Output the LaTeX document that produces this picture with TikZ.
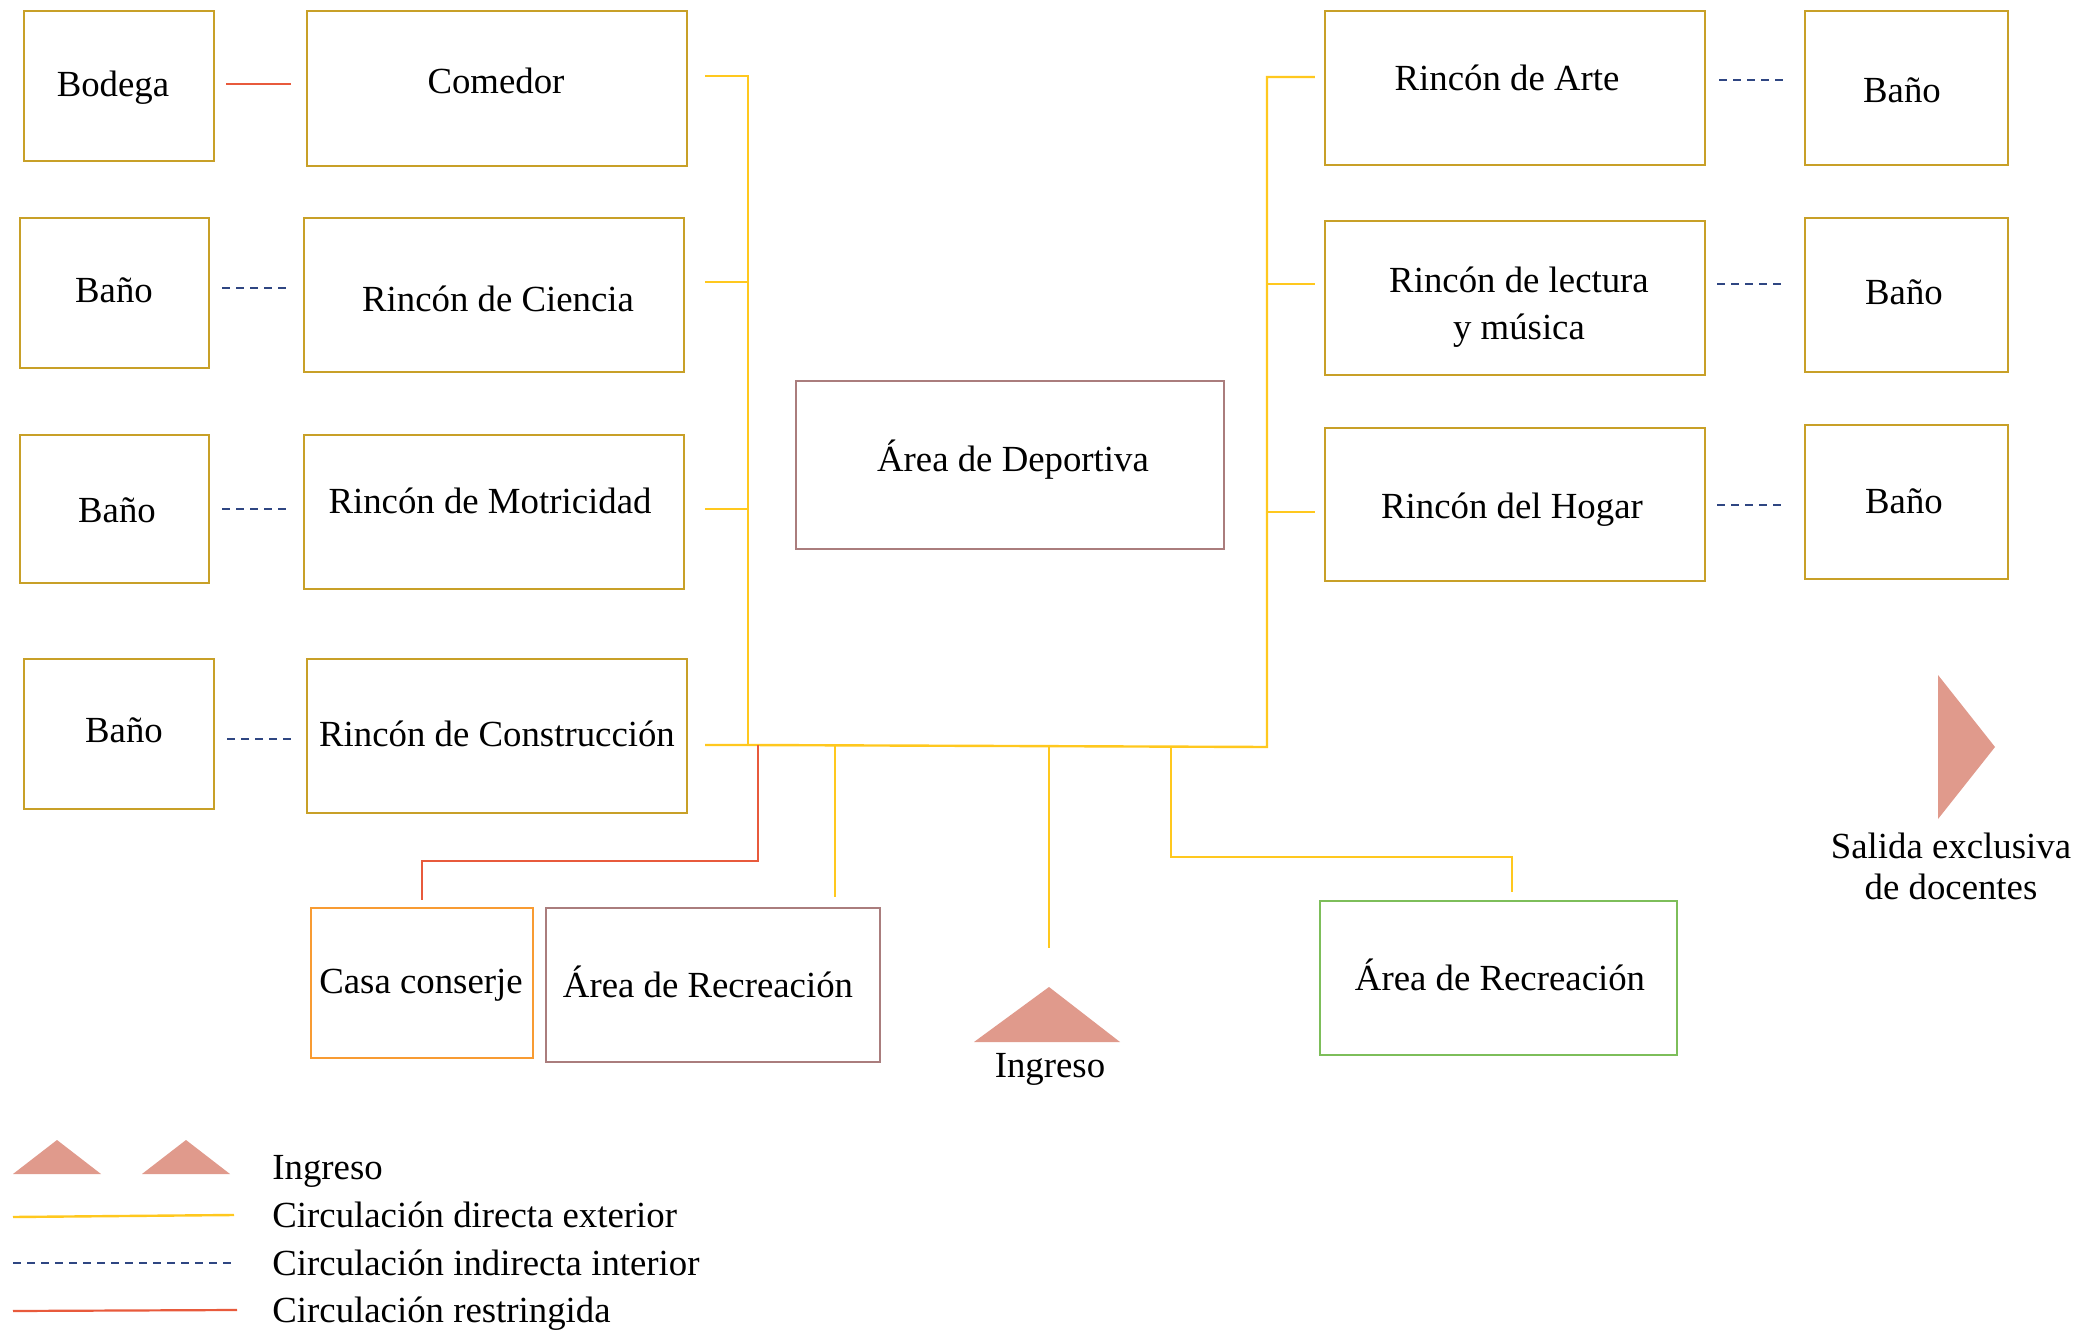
\documentclass[tikz,border=0pt]{standalone}
\usepackage{fontspec}
\setmainfont{Liberation Serif}
\usetikzlibrary{fit}
\definecolor{boxgold}{RGB}{200,160,40}
\definecolor{boxbrown}{RGB}{170,125,125}
\definecolor{boxorange}{RGB}{248,155,50}
\definecolor{boxgreen}{RGB}{125,190,90}
\definecolor{lineyellow}{RGB}{255,200,30}
\definecolor{linered}{RGB}{232,90,60}
\definecolor{lineblue}{RGB}{47,70,130}
\definecolor{trifill}{RGB}{224,154,140}
\begin{document}
\begin{tikzpicture}[x=0.5pt,y=-0.5pt,
  room/.style={draw=#1, line width=1.1pt, inner sep=0pt},
  lbl/.style={font=\fontsize{18.4}{23.3}\selectfont, inner sep=0pt, text height=0.66em, text depth=0pt, yshift=-3pt},
  lbltwo/.style={font=\fontsize{18.4}{#1}\selectfont, inner sep=0pt, align=center},
  yl/.style={draw=lineyellow, line width=1.2pt},
  rd/.style={draw=linered, line width=1.1pt},
  bl/.style={draw=lineblue, line width=0.9pt, dash pattern=on 4pt off 3pt},
  tri/.style={fill=trifill, draw=none}]
\useasboundingbox (0,0) rectangle (2084,1332);
\fill[white] (0,0) rectangle (2084,1332);

% ---------- left column ----------
\node[room=boxgold, fit={(24,11) (214,161)}] (bodega) {};
\node[lbl] (bodegaT) at (113,84) {Bodega};
\node[room=boxgold, fit={(307,11) (687,166)}] (comedor) {};
\node[lbl] (comedorT) at (496,81) {Comedor};

\node[room=boxgold, fit={(20,218) (209,368)}] (bano1) {};
\node[lbl] (bano1T) at (114,290) {Baño};
\node[room=boxgold, fit={(304,218) (684,372)}] (ciencia) {};
\node[lbl] (cienciaT) at (498,299) {Rincón de Ciencia};

\node[room=boxgold, fit={(20,435) (209,583)}] (bano2) {};
\node[lbl] (bano2T) at (117,510) {Baño};
\node[room=boxgold, fit={(304,435) (684,589)}] (motri) {};
\node[lbl] (motriT) at (490,501) {Rincón de Motricidad};

\node[room=boxgold, fit={(24,659) (214,809)}] (bano3) {};
\node[lbl] (bano3T) at (124,730) {Baño};
\node[room=boxgold, fit={(307,659) (687,813)}] (constr) {};
\node[lbl] (constrT) at (497,734) {Rincón de Construcción};

% ---------- centre ----------
\node[room=boxbrown, fit={(796,381) (1224,549)}] (deport) {};
\node[lbl] (deportT) at (1013,459) {Área de Deportiva};

\node[room=boxorange, fit={(311,908) (533,1058)}] (casa) {};
\node[lbl] (casaT) at (421,981) {Casa conserje};
\node[room=boxbrown, fit={(546,908) (880,1062)}] (recreL) {};
\node[lbl] (recreLT) at (708,985) {Área de Recreación};
\node[room=boxgreen, fit={(1320,901) (1677,1055)}] (recreR) {};
\node[lbl] (recreRT) at (1500,978) {Área de Recreación};

\coordinate (ingTL) at (974,1042);
\coordinate (ingTT) at (1049,987);
\coordinate (ingTR) at (1120,1042);
\fill[tri] (ingTL) -- (ingTT) -- (ingTR) -- cycle;
\node[lbl] (ingT) at (1050,1065) {Ingreso};

% ---------- right column ----------
\node[room=boxgold, fit={(1325,11) (1705,165)}] (arte) {};
\node[lbl] (arteT) at (1507,78) {Rincón de Arte};
\node[room=boxgold, fit={(1805,11) (2008,165)}] (bano4) {};
\node[lbl] (bano4T) at (1902,90) {Baño};

\node[room=boxgold, fit={(1325,221) (1705,375)}] (lect) {};
\node[lbltwo=23.3pt] (lectT) at (1519,307) {Rincón de lectura\\y música};
\node[room=boxgold, fit={(1805,218) (2008,372)}] (bano5) {};
\node[lbl] (bano5T) at (1904,292) {Baño};

\node[room=boxgold, fit={(1325,428) (1705,581)}] (hogar) {};
\node[lbl] (hogarT) at (1512,506) {Rincón del Hogar};
\node[room=boxgold, fit={(1805,425) (2008,579)}] (bano6) {};
\node[lbl] (bano6T) at (1904,501) {Baño};

% salida
\coordinate (salT1) at (1938,675);
\coordinate (salT2) at (1995,747);
\coordinate (salT3) at (1938,819);
\fill[tri] (salT1) -- (salT2) -- (salT3) -- cycle;
\node[lbltwo=20.5pt] (salidaT) at (1951,866) {Salida exclusiva\\de docentes};

% ---------- connectors ----------
% short links between rooms
\draw[rd] ([xshift=5.5pt]bodega.east |- 0,84) coordinate (rb1) -- ([xshift=-7.5pt]comedor.west |- 0,84) coordinate (rb2);
\draw[bl] ([xshift=6pt]bano1.east |- 0,288) coordinate (d1a) -- ([xshift=-6pt]ciencia.west |- 0,288) coordinate (d1b);
\draw[bl] ([xshift=6pt]bano2.east |- 0,509) coordinate (d2a) -- ([xshift=-6pt]motri.west |- 0,509) coordinate (d2b);
\draw[bl] ([xshift=6pt]bano3.east |- 0,739) coordinate (d3a) -- ([xshift=-4.5pt]constr.west |- 0,739) coordinate (d3b);
\draw[bl] ([xshift=6.5pt]arte.east |- 0,80) coordinate (d4a) -- ([xshift=-8pt]bano4.west |- 0,80) coordinate (d4b);
\draw[bl] ([xshift=5.5pt]lect.east |- 0,284) coordinate (d5a) -- ([xshift=-9pt]bano5.west |- 0,284) coordinate (d5b);
\draw[bl] ([xshift=5.5pt]hogar.east |- 0,505) coordinate (d6a) -- ([xshift=-9pt]bano6.west |- 0,505) coordinate (d6b);

% bus junctions
\coordinate (jL1) at (748,76);
\coordinate (jL2) at (748,282);
\coordinate (jL3) at (748,509);
\coordinate (jL4) at (748,745);
\coordinate (jR1) at (1267,77);
\coordinate (jR2) at (1267,284);
\coordinate (jR3) at (1267,512);
\coordinate (jR4) at (1267,747);

% buses
\draw[yl] ([xshift=8.5pt]comedor.east |- jL1) -- (jL1) -- (jL4);
\draw[yl] ([xshift=10pt]ciencia.east |- jL2) -- (jL2);
\draw[yl] ([xshift=10pt]motri.east |- jL3) -- (jL3);
\draw[yl] ([xshift=8.5pt]constr.east |- jL4) -- (jL4) -- (jR4) -- (jR1) -- ([xshift=-4.5pt]arte.west |- jR1);
\draw[yl] (jR2) -- ([xshift=-4.5pt]lect.west |- jR2);
\draw[yl] (jR3) -- ([xshift=-4.5pt]hogar.west |- jR3);

% drops from the horizontal bus
\coordinate (jD1) at (758,745);
\coordinate (jD2) at (835,745.5);
\coordinate (jD3) at (1049,746);
\coordinate (jD4) at (1171,746.5);
\draw[rd] (jD1) -- (758,861) -- (casa.north |- 0,861) -- ([yshift=3.5pt]casa.north);
\draw[yl] (jD2) -- ([yshift=5pt]recreL.north -| jD2);
\draw[yl] (jD3) -- ([yshift=19.5pt]ingTT);
\draw[yl] (jD4) -- (1171,857) -- (1512,857) -- ([yshift=4pt]recreR.north -| 1512,0);

% ---------- legend ----------
\coordinate (lg1a) at (13,1174);
\coordinate (lg1b) at (57,1140);
\coordinate (lg1c) at (101,1174);
\coordinate (lg2a) at (142,1174);
\coordinate (lg2b) at (186,1140);
\coordinate (lg2c) at (230,1174);
\fill[tri] (lg1a) -- (lg1b) -- (lg1c) -- cycle;
\fill[tri] (lg2a) -- (lg2b) -- (lg2c) -- cycle;
\node[lbl, anchor=west] (legIng) at (272,1167) {Ingreso};

\coordinate (lgY1) at (13,1217);
\coordinate (lgY2) at (234,1215);
\draw[yl] (lgY1) -- (lgY2);
\node[lbl, anchor=west] (legY) at (272,1215) {Circulación directa exterior};

\coordinate (lgB1) at (13,1263);
\coordinate (lgB2) at (234,1263);
\draw[bl] (lgB1) -- (lgB2);
\node[lbl, anchor=west] (legB) at (272,1263) {Circulación indirecta interior};

\coordinate (lgR1) at (13,1311);
\coordinate (lgR2) at (237,1310);
\draw[rd] (lgR1) -- (lgR2);
\node[lbl, anchor=west] (legR) at (272,1310) {Circulación restringida};
\end{tikzpicture}
\end{document}
